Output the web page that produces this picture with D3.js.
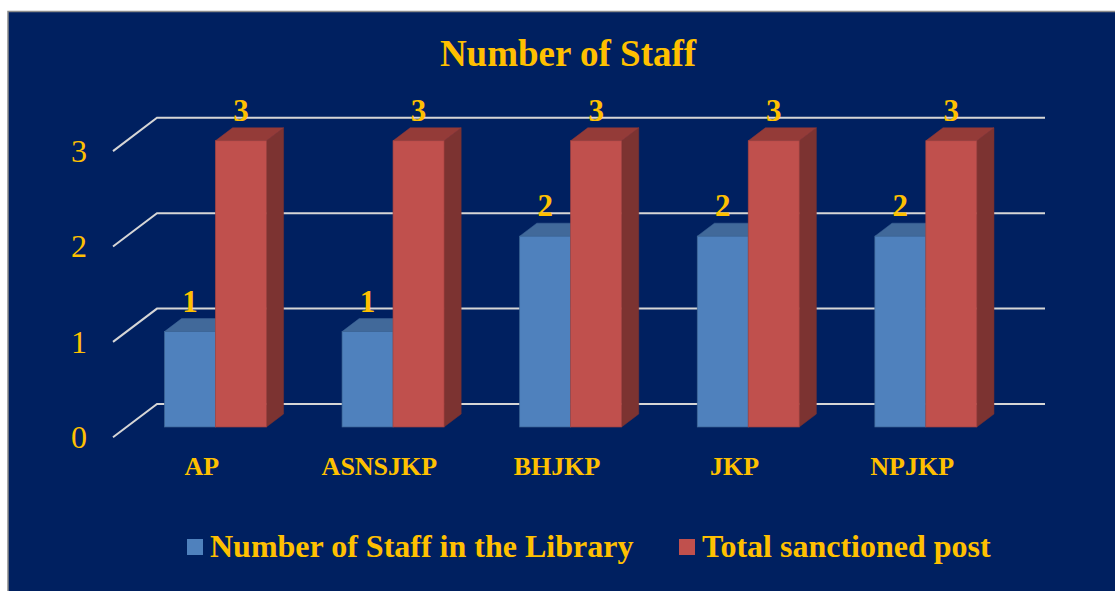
<!DOCTYPE html>
<html>
  <head>
    <script src="https://d3js.org/d3.v7.min.js"></script>
    <style>
      body { margin: 0; background: #fff; }
      text { font-family: "Liberation Serif", "Times New Roman", serif; fill: #FFC000; }
    </style>
  </head>
  <body>
    <svg width="1115" height="591"></svg>
    <script>
      const categories = ["AP", "ASNSJKP", "BHJKP", "JKP", "NPJKP"];
      const seriesNames = ["Number of Staff in the Library", "Total sanctioned post"];
      const staffInLibrary = [1, 1, 2, 2, 2];
      const sanctionedPost = [3, 3, 3, 3, 3];
      const yTicks = [0, 1, 2, 3];

      const colors = {
        front: ["#4F81BD", "#C0504D"],
        top: ["#41699A", "#943B38"],
        side: ["#3A5F8C", "#7C3331"],
        edge: ["#3E6796", "#A44441"]
      };

      const svg = d3.select("svg");

      // chart area with thin grey frame
      svg.append("rect")
        .attr("x", 8).attr("y", 11.5)
        .attr("width", 1120).attr("height", 600)
        .attr("fill", "#002060")
        .attr("stroke", "#8C8C8C").attr("stroke-width", 1.5);

      // depth offset of the 3D floor
      const depthX = 44, depthY = 33.3;
      const barZ0 = 0.31, barZ1 = 0.7;

      const x0 = d3.scaleBand().domain(categories).range([113, 1001]);
      const x1 = d3.scaleBand().domain(seriesNames)
        .range([0, x0.bandwidth()]).paddingOuter(0.742);
      const y = d3.scaleLinear().domain([0, 3]).range([437.3, 151.1]);

      const proj = (x, v, z) => [x + depthX * z, y(v) - depthY * z];

      // gridlines: diagonal on the left wall, then along the back
      const grid = svg.append("g");
      yTicks.forEach(t => {
        const a = proj(x0.range()[0], t, 0);
        const b = proj(x0.range()[0], t, 1);
        const c = proj(x0.range()[1], t, 1);
        grid.append("polyline")
          .attr("points", [a, b, c].map(p => p.join(",")).join(" "))
          .attr("fill", "none")
          .attr("stroke", "#D6D6D6")
          .attr("stroke-width", 2);
      });

      // y axis labels
      const yAxis = d3.axisLeft(y).tickValues(yTicks).tickSize(0).tickPadding(0)
        .tickFormat(d3.format("d"));
      const ax = svg.append("g").attr("transform", "translate(87,0)").call(yAxis);
      ax.select(".domain").remove();
      ax.selectAll("text")
        .attr("font-size", 32)
        .attr("fill", "#FFC000")
        .style("font-family", "Liberation Serif");

      // bars
      const rows = [];
      categories.forEach((c, i) => {
        [staffInLibrary[i], sanctionedPost[i]].forEach((v, s) => {
          rows.push({ cat: c, s: s, v: v });
        });
      });

      const bars = svg.append("g");
      rows.forEach(d => {
        const xl = x0(d.cat) + x1(seriesNames[d.s]);
        const xr = xl + x1.bandwidth();
        const pt = (x, v, z) => proj(x, v, z).join(",");
        const g = bars.append("g");
        // side face
        g.append("polygon")
          .attr("points", [pt(xr, 0, barZ0), pt(xr, 0, barZ1), pt(xr, d.v, barZ1), pt(xr, d.v, barZ0)].join(" "))
          .attr("fill", colors.side[d.s]).attr("stroke", colors.side[d.s]).attr("stroke-width", 0.5);
        // top face
        g.append("polygon")
          .attr("points", [pt(xl, d.v, barZ0), pt(xr, d.v, barZ0), pt(xr, d.v, barZ1), pt(xl, d.v, barZ1)].join(" "))
          .attr("fill", colors.top[d.s]).attr("stroke", colors.top[d.s]).attr("stroke-width", 0.5);
        // front face
        const f0 = proj(xl, d.v, barZ0), f1 = proj(xr, 0, barZ0);
        g.append("rect")
          .attr("x", f0[0]).attr("y", f0[1])
          .attr("width", f1[0] - f0[0]).attr("height", f1[1] - f0[1])
          .attr("fill", colors.front[d.s])
          .attr("stroke", colors.edge[d.s]).attr("stroke-width", 0.7);
      });

      // value labels
      svg.append("g").selectAll("text").data(rows).join("text")
        .attr("x", d => proj(x0(d.cat) + x1(seriesNames[d.s]) + x1.bandwidth() / 2, d.v, barZ0)[0])
        .attr("y", d => proj(0, d.v, barZ1)[1] - 7)
        .attr("text-anchor", "middle")
        .attr("font-size", 31)
        .attr("font-weight", "bold")
        .text(d => d.v);

      // category labels
      svg.append("g").selectAll("text").data(categories).join("text")
        .attr("x", d => x0(d) + x0.bandwidth() / 2)
        .attr("y", 475)
        .attr("text-anchor", "middle")
        .attr("font-size", 26)
        .attr("font-weight", "bold")
        .text(d => d);

      // title
      svg.append("text")
        .attr("x", 568).attr("y", 65.5)
        .attr("text-anchor", "middle")
        .attr("font-size", 37)
        .attr("font-weight", "bold")
        .text("Number of Staff");

      // legend
      const legendX = [187, 679];
      const legend = svg.append("g");
      seriesNames.forEach((n, i) => {
        legend.append("rect")
          .attr("x", legendX[i]).attr("y", 539)
          .attr("width", 16).attr("height", 16)
          .attr("fill", colors.front[i]);
        legend.append("text")
          .attr("x", legendX[i] + 23).attr("y", 557)
          .attr("font-size", 32)
          .attr("font-weight", "bold")
          .text(n);
      });
    </script>
  </body>
</html>
